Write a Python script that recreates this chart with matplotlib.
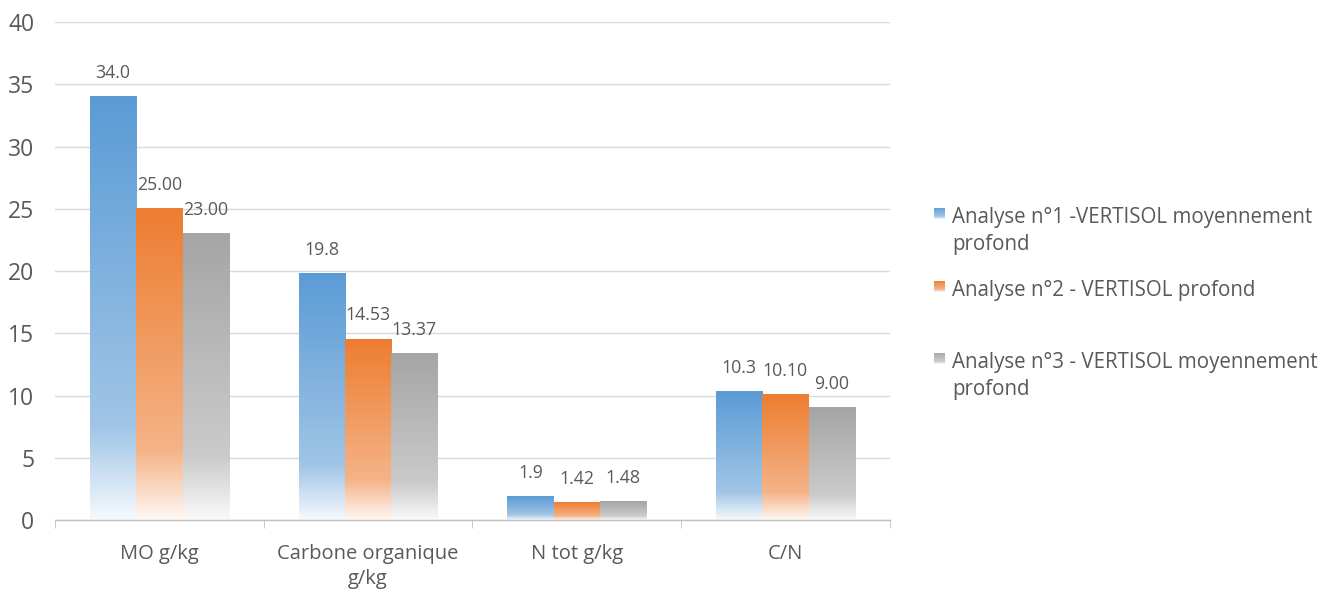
import numpy as np
import matplotlib
matplotlib.use("Agg")
import matplotlib.pyplot as plt
from matplotlib.colors import to_rgb

plt.rcParams['font.family'] = ['Open Sans', 'DejaVu Sans']

categories = ["MO g/kg", "Carbone organique\ng/kg", "N tot g/kg", "C/N"]
series_names = ["Analyse n°1 -VERTISOL moyennement\nprofond",
                "Analyse n°2 - VERTISOL profond",
                "Analyse n°3 - VERTISOL moyennement\nprofond"]
analyse1 = [34.0, 19.8, 1.9, 10.3]
analyse2 = [25.00, 14.53, 1.42, 10.10]
analyse3 = [23.00, 13.37, 1.48, 9.00]
labels1 = ["34.0", "19.8", "1.9", "10.3"]
labels2 = ["25.00", "14.53", "1.42", "10.10"]
labels3 = ["23.00", "13.37", "1.48", "9.00"]
colors = ["#5B9BD5", "#ED7D31", "#A5A5A5"]

text_col = "#595959"


def gradient(color, n=200):
    c = np.array(to_rgb(color))
    w = np.ones(3)
    stops = [(0.0, 0.0), (0.78, 0.42), (1.0, 0.94)]
    t = np.linspace(0, 1, n)
    mix = np.interp(t, [s[0] for s in stops], [s[1] for s in stops])
    rgb = c[None, :] * (1 - mix[:, None]) + w[None, :] * mix[:, None]
    return rgb[:, None, :]


fig = plt.figure(figsize=(13.42, 5.93), dpi=100)
ax = fig.add_axes([0.041, 0.1231, 0.622, 0.8398])

x = np.arange(len(categories))
bw = 0.222
data = [analyse1, analyse2, analyse3]
labs = [labels1, labels2, labels3]
for i, (vals, lab, col) in enumerate(zip(data, labs, colors)):
    offs = (i - 1) * bw
    for xi, v, l in zip(x, vals, lab):
        x0 = xi + offs - bw / 2
        ax.imshow(gradient(col), extent=[x0, x0 + bw, 0, v], aspect='auto',
                  interpolation='bilinear', zorder=2)
        ax.annotate(l, (xi + offs, v), xytext=(0, 17), textcoords='offset points',
                    ha='center', va='center', fontsize=12.8, color=text_col)

ax.set_xlim(-0.5, len(categories) - 0.5)
ax.set_ylim(0, 40)
ax.set_yticks(range(0, 41, 5))
ax.yaxis.grid(True, color="#D9D9D9", linewidth=1)
ax.set_axisbelow(True)
ax.set_xticks(x)
ax.set_xticklabels(categories, fontsize=14.5, color=text_col, linespacing=1.35)
ax.tick_params(axis='x', length=0, pad=17)
ax.set_xticks(np.arange(-0.5, len(categories), 1), minor=True)
ax.tick_params(axis='x', which='minor', length=6, color="#BFBFBF")
ax.tick_params(axis='y', length=0, labelsize=16.5, labelcolor=text_col, pad=15)
for s in ['top', 'right', 'left']:
    ax.spines[s].set_visible(False)
ax.spines['bottom'].set_color("#BFBFBF")
ax.spines['bottom'].set_linewidth(1)

# legend
W, H = 1342, 593
leg_y = [214, 287, 359]
for name, col, yc in zip(series_names, colors, leg_y):
    sz = 11
    lax = fig.add_axes([934 / W, 1 - (yc + sz / 2) / H, sz / W, (sz + 1) / H])
    lax.imshow(gradient(col), aspect='auto', interpolation='bilinear')
    lax.axis('off')
    fig.text(952 / W, 1 - (yc - 7) / H, name, fontsize=14.8, color=text_col,
             va='top', ha='left', linespacing=1.35)

fig.savefig("out.png", dpi=100)
